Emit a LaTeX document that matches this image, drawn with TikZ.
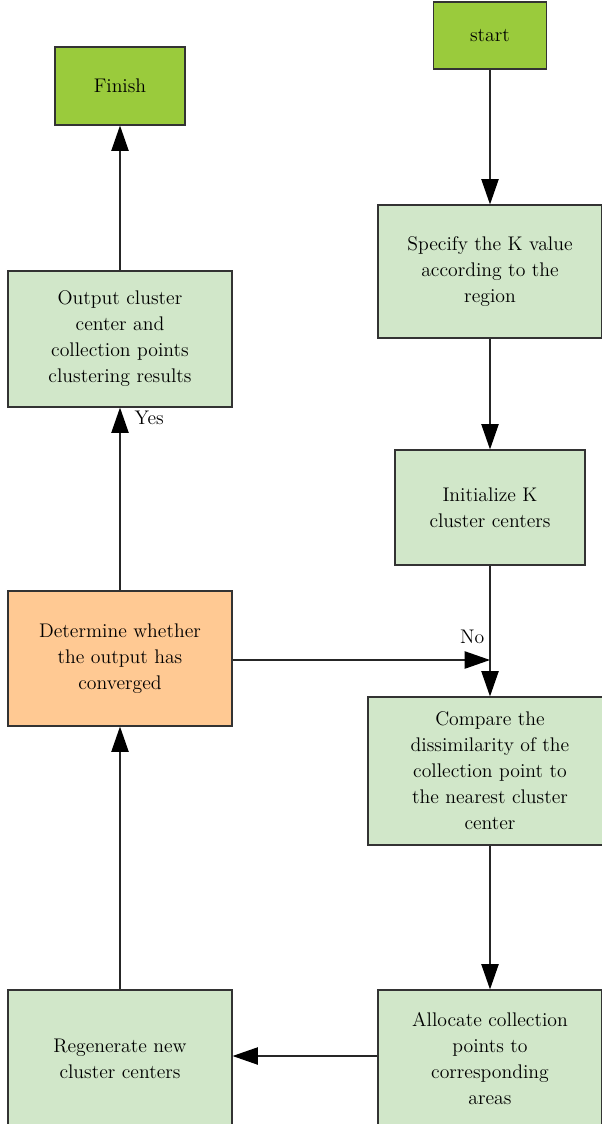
\documentclass[tikz,border=0pt]{standalone}
\usetikzlibrary{arrows.meta}

\definecolor{paleGreen}{HTML}{D1E7C9}
\definecolor{limeGreen}{HTML}{9ACB3C}
\definecolor{paleOrange}{HTML}{FFC993}

\begin{document}
\begin{tikzpicture}[x=0.75pt, y=-0.75pt]

%-------------------------------------------------
% Styles
%-------------------------------------------------
\tikzset{
  box/.style={draw=black!80, line width=0.9pt, align=center, inner sep=0pt,
    font=\fontsize{14.8}{19.5}\selectfont, text=black},
  step_box/.style={box, fill=paleGreen},
  end_box/.style={box, fill=limeGreen},
  test_box/.style={box, fill=paleOrange},
  flow/.style={draw=black!85, line width=0.9pt,
    -{Triangle[length=19pt, width=13pt, fill=black, color=black]}},
  lbl/.style={font=\fontsize{14.8}{19.5}\selectfont, text=black}
}

\useasboundingbox (0,0) rectangle (602,1124);
\clip (0,0) rectangle (602,1124);

%-------------------------------------------------
% RIGHT COLUMN
%-------------------------------------------------
\node[end_box, minimum width=84.75pt, minimum height=50.25pt] (start) at (490,35.5) {start};

\node[step_box, minimum width=168pt, minimum height=99.75pt] (specify) at (490,271.5)
  {Specify the K value\\according to the\\region};

\node[step_box, minimum width=142.5pt, minimum height=86.25pt] (init) at (490,507.5)
  {Initialize K\\cluster centers};

\node[step_box, minimum width=183pt, minimum height=111pt] (compare) at (490,771)
  {Compare the\\dissimilarity of the\\collection point to\\the nearest cluster\\center};

\node[step_box, minimum width=168pt, minimum height=103.5pt] (allocate) at (490,1059)
  {Allocate collection\\points to\\corresponding\\areas};

%-------------------------------------------------
% LEFT COLUMN
%-------------------------------------------------
\node[end_box, minimum width=97.5pt, minimum height=58.5pt] (finish) at (120,86) {Finish};

\node[step_box, minimum width=168pt, minimum height=102pt] (output) at (120,339)
  {Output cluster\\center and\\collection points\\clustering results};

\node[test_box, minimum width=168pt, minimum height=101.25pt] (test) at (120,658.5)
  {Determine whether\\the output has\\converged};

\node[step_box, minimum width=168pt, minimum height=103.5pt] (regen) at (120,1059)
  {Regenerate new\\cluster centers};

% junction on the right trunk
\coordinate (join) at (490,660);

%-------------------------------------------------
% Connectors
%-------------------------------------------------
\draw[flow] (start) -- (specify);
\draw[flow] (specify) -- (init);
\draw[flow] (init) -- (compare);
\draw[flow] (test.east |- join) -- (join);
\draw[flow] (compare) -- (allocate);
\draw[flow] (allocate.west |- 0,1056) -- (regen.east |- 0,1056);
\draw[flow] (regen) -- (test);
\draw[flow] (test) -- (output);
\draw[flow] (output) -- (finish);

% branch labels
\node[lbl, anchor=east] (no) at (489,637) {No};
\node[lbl, anchor=west] (yes) at (130,418) {Yes};

\end{tikzpicture}
\end{document}
